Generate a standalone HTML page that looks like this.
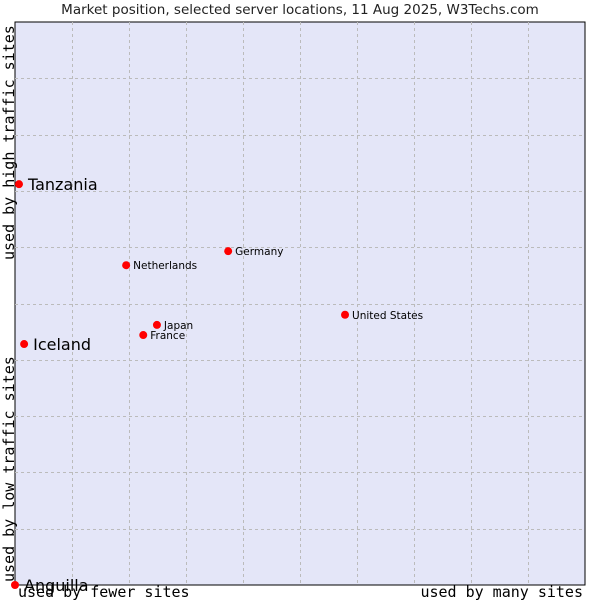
<!DOCTYPE html>
<html><head><meta charset="utf-8"><style>
body{margin:0;background:#fff;width:600px;height:600px;overflow:hidden}
svg{display:block}
</style></head><body>
<svg id="chart" width="600" height="600">
<text x="300" y="14" text-anchor="middle" font-family="DejaVu Sans, sans-serif" font-size="13.5" fill="#222">Market position, selected server locations, 11 Aug 2025, W3Techs.com</text>
<rect x="15" y="22" width="570" height="563" fill="#e4e6f8" stroke="#000" stroke-width="1"/>
<g id="grid"></g>
<text transform="translate(14,260) rotate(-90)" font-family="DejaVu Sans Mono, monospace" font-size="15" fill="#000">used by high traffic sites</text>
<text transform="translate(14,582) rotate(-90)" font-family="DejaVu Sans Mono, monospace" font-size="15" fill="#000">used by low traffic sites</text>
<text x="18" y="597" font-family="DejaVu Sans Mono, monospace" font-size="15" fill="#000">used by fewer sites</text>
<text x="583" y="597" text-anchor="end" font-family="DejaVu Sans Mono, monospace" font-size="15" fill="#000">used by many sites</text>
<g id="points"></g>
</svg>
<script>
const countries=["Tanzania","Iceland","Anguilla","Netherlands","Germany","Japan","France","United States"];
const xValues=[0.7,1.6,0,19.5,37.4,24.9,22.5,57.9];
const yValues=[71.2,42.8,0,56.8,59.3,46.2,44.4,48.0];
const bigLabel=[true,true,true,false,false,false,false,false];
const L=15,T=22,W=570,H=563;
const sx=v=>L+v/100*W, sy=v=>T+H-v/100*H;
const ns="http://www.w3.org/2000/svg";
const grid=document.getElementById('grid');
for(let i=1;i<10;i++){
  const lv=document.createElementNS(ns,'line');
  
  
  const x=Math.round(sx(i*10))+0.5;
  lv.setAttribute('x1',x);lv.setAttribute('x2',x);lv.setAttribute('y1',T);lv.setAttribute('y2',T+H);
  lv.setAttribute('stroke','#bbbbbb');lv.setAttribute('stroke-dasharray','3,3');
  grid.appendChild(lv);
  const lh=document.createElementNS(ns,'line');
  
  
  const y=Math.round(sy(i*10))+0.5;
  lh.setAttribute('x1',L);lh.setAttribute('x2',L+W);lh.setAttribute('y1',y);lh.setAttribute('y2',y);
  lh.setAttribute('stroke','#bbbbbb');lh.setAttribute('stroke-dasharray','3,3');
  grid.appendChild(lh);
}
const pts=document.getElementById('points');
countries.forEach((c,i)=>{
  const x=sx(xValues[i]),y=sy(yValues[i]);
  const p=document.createElementNS(ns,'circle');
  
  
  p.setAttribute('cx',x);p.setAttribute('cy',y);p.setAttribute('r',4);p.setAttribute('fill','#f00');
  pts.appendChild(p);
  const t=document.createElementNS(ns,'text');
  
  
  const big=bigLabel[i];
  t.setAttribute('x',x+(big?9:7));t.setAttribute('y',y+(big?6:4));
  t.setAttribute('font-family','DejaVu Sans, sans-serif');
  t.setAttribute('font-size',big?16:10.5);t.setAttribute('fill','#000');
  t.textContent=c;
  pts.appendChild(t);
});
</script>
</body></html>
